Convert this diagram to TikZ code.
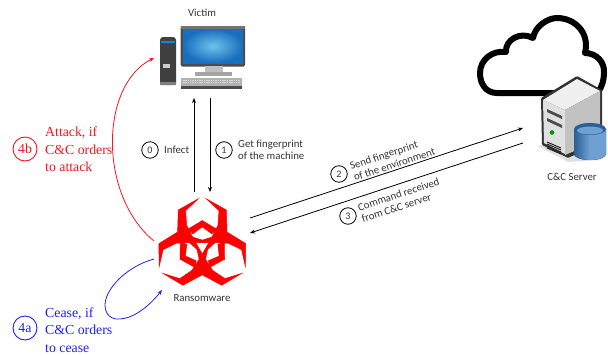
\documentclass[tikz,border=0pt]{standalone}
\usepackage{fontspec}
\setmainfont{Liberation Serif}
\newfontfamily\labelfont{Carlito}
\usetikzlibrary{arrows.meta}
\definecolor{cmdred}{RGB}{250,20,30}
\definecolor{cmdblue}{RGB}{30,30,245}
\definecolor{screenin}{RGB}{110,195,235}
\definecolor{screenout}{RGB}{25,110,190}
\definecolor{drumtop}{RGB}{45,95,150}
\definecolor{drumface}{RGB}{110,160,210}
\tikzset{
	arrow/.style={-{Stealth[length=5pt,width=4pt]}, line width=0.8pt},
	holder/.style={inner sep=0pt, outer sep=0pt},
	small/.style={inner sep=0pt, font=\labelfont\fontsize{10.8}{12}\selectfont, text=black!80, align=left},
	big/.style={inner sep=0pt, font=\fontsize{13.8}{17.5}\selectfont, align=left},
	stepmark/.style={circle, draw, line width=0.8pt, inner sep=0pt, minimum size=16.5pt, font=\labelfont\fontsize{10}{11}\selectfont, text=black!80},
	bigmark/.style={circle, draw, line width=0.9pt, inner sep=0pt, minimum size=24pt, font=\fontsize{13.8}{15}\selectfont},
	blade/.style={fill=red, draw=red, line width=0.5pt, line join=miter}
}
\begin{document}
\begin{tikzpicture}[x=1pt, y=-1pt]
	\useasboundingbox (0,0) rectangle (608,356);
	% cloud
	\draw[line width=6pt, line join=round] (575,93) -- (497,93)
		.. controls (486,93) and (480,84) .. (480,73)
		.. controls (480,60) and (492,50) .. (506,52)
		.. controls (505,40) and (520,31) .. (533,38)
		.. controls (535,26) and (548,18) .. (557,18)
		.. controls (575,18) and (590,33) .. (585,53)
		.. controls (597,53) and (605,63) .. (604,73)
		.. controls (604,80) and (602,87) .. (598,92);
	% computer
	\fill[black!75, rounded corners=1pt] (160,39) -- (162,37) -- (174,37) -- (176,39) -- (176,85) -- (160,85) -- cycle;
	\fill[black!50!white] (160,82) rectangle (176,85);
	\fill[cyan!70!blue] (161,41) rectangle (175,42.5);
	\fill[white!80!black] (163,64) rectangle (170,68);
	\fill[black!70, rounded corners=1.5pt] (180.5,26) rectangle (245,66.5);
	\fill[black!55] (180.5,26) rectangle (245,29);
	\shade[inner color=screenin, outer color=screenout] (183,29) rectangle (243,63);
	\fill[black!25] (205,66) rectangle (223,72);
	\fill[black!35] (195,72) rectangle (232,76);
	\fill[black!30] (181,78) rectangle (242,86);
	\fill[black!70] (181,86) rectangle (242,88.5);
	\foreach \i in {80,82.5} {\draw[white!85!black, line width=0.8pt, dash pattern=on 1.5pt off 0.8pt] (183,\i) -- (240,\i);}
	\node[holder, minimum width=96pt, minimum height=80pt] (pc) at (202,58) {};
	\node[small] (victim) at (202,12.5) {Victim};
	% ransomware sign
	\foreach \ang in {0,120,240} {
		\begin{scope}[shift={(202.3,246.3)}, rotate=\ang]
			\foreach \side in {1,-1} {
				\begin{scope}[xscale=\side]
					\filldraw[blade] (-4,-47.5) -- (-24,-36.3) -- (-24.7,-14.7) -- (0,8) -- (-7,-4) -- (-15.7,-21) -- (-16.7,-35.7) -- cycle;
					\filldraw[blade] (0,-25.7) -- (-14.5,-17) -- (-9.5,-12.5) -- (0,-19.5) -- cycle;
				\end{scope}
			}
		\end{scope}
	}
	\node[holder, minimum width=96pt, minimum height=98pt] (hazard) at (202,241) {};
	\node[small] (ransom) at (202,298.5) {Ransomware};
	% server
	\fill[black!20, opacity=0.6] (538,146) -- (568,162) -- (600,160) -- (600,130) -- cycle;
	\fill[black!80, rounded corners=1pt] (577,76) -- (602,90) -- (602,142) -- (568,158) -- (542,145) -- (541,98) -- cycle;
	\fill[black!6] (577,79) -- (600,91) -- (565,110) -- (543,100) -- cycle;
	\fill[black!24] (565,110) -- (600,91) -- (600,140) -- (565,155) -- cycle;
	\fill[black!12] (543,100) -- (565,110) -- (565,154) -- (544,143) -- cycle;
	\fill[black!70] (547,109) -- (562,116) -- (562,119) -- (547,112) -- cycle;
	\fill[black!70] (547,118) -- (562,125) -- (562,128) -- (547,121) -- cycle;
	\fill[green!60!black] (552,132.5) circle (2.3pt);
	\foreach \i in {0,2,4,6} {\draw[black!85, line width=1pt] (547,142+\i) -- (561,148+\i);}
	\fill[left color=drumtop, right color=drumface, middle color=drumface] (574,129) -- (574,154) arc[start angle=180, end angle=360, x radius=16, y radius=-6] -- (606,129) -- cycle;
	\fill[drumtop] (590,129) ellipse (16pt and 6pt);
	\fill[drumface] (590,130.5) ellipse (13pt and 4pt);
	\node[holder, minimum width=98pt, minimum height=100pt] (cc) at (572,135) {};
	\node[small] (server) at (572,177) {C\&C Server};
	% steps
	\draw[arrow] ([xshift=-8pt]hazard.north) -- ([xshift=-8pt]pc.south);
	\draw[arrow] ([xshift=8pt]pc.south) -- ([xshift=8pt]hazard.north);
	\draw[arrow] ([yshift=23pt]hazard.east) -- ([yshift=7pt]cc.west);
	\draw[arrow] ([yshift=-8pt]cc.west) -- ([yshift=8pt]hazard.east);
	\draw[arrow, cmdred] (hazard.west) .. controls (98,195) and (100,85) .. (pc.west);
	\draw[arrow, cmdblue] ([yshift=-18pt]hazard.west) .. controls (125,267) and (105,290) .. (105,305)
		.. controls (105,315) and (112,320) .. (120,319)
		.. controls (135,318) and (150,305) .. ([xshift=-40pt]hazard.south);
	\node[stepmark] (n0) at (150,150) {0};
	\node[small, anchor=west] (infect) at (164,150) {Infect};
	\node[stepmark] (n1) at (224,150) {1};
	\node[small, anchor=west] (getfp) at (238,150) {Get fingerprint\\of the machine};
	\node[stepmark] (n2) at (339,174) {2};
	\node[small, rotate=18.2] (sendfp) at (392.5,158.5) {Send fingerprint\\of the environment};
	\node[stepmark] (n3) at (348,216) {3};
	\node[small, rotate=18.2] (cmdrecv) at (400.5,200) {Command received\\from C\&C server};
	\node[bigmark, cmdred] (n4b) at (25,149) {4b};
	\node[big, cmdred, anchor=west] (attack) at (45,149.5) {Attack, if\\C\&C orders\\to attack};
	\node[bigmark, cmdblue] (n4a) at (25,328) {4a};
	\node[big, cmdblue, anchor=west] (cease) at (45,330) {Cease, if\\C\&C orders\\to cease};
\end{tikzpicture}
\end{document}
